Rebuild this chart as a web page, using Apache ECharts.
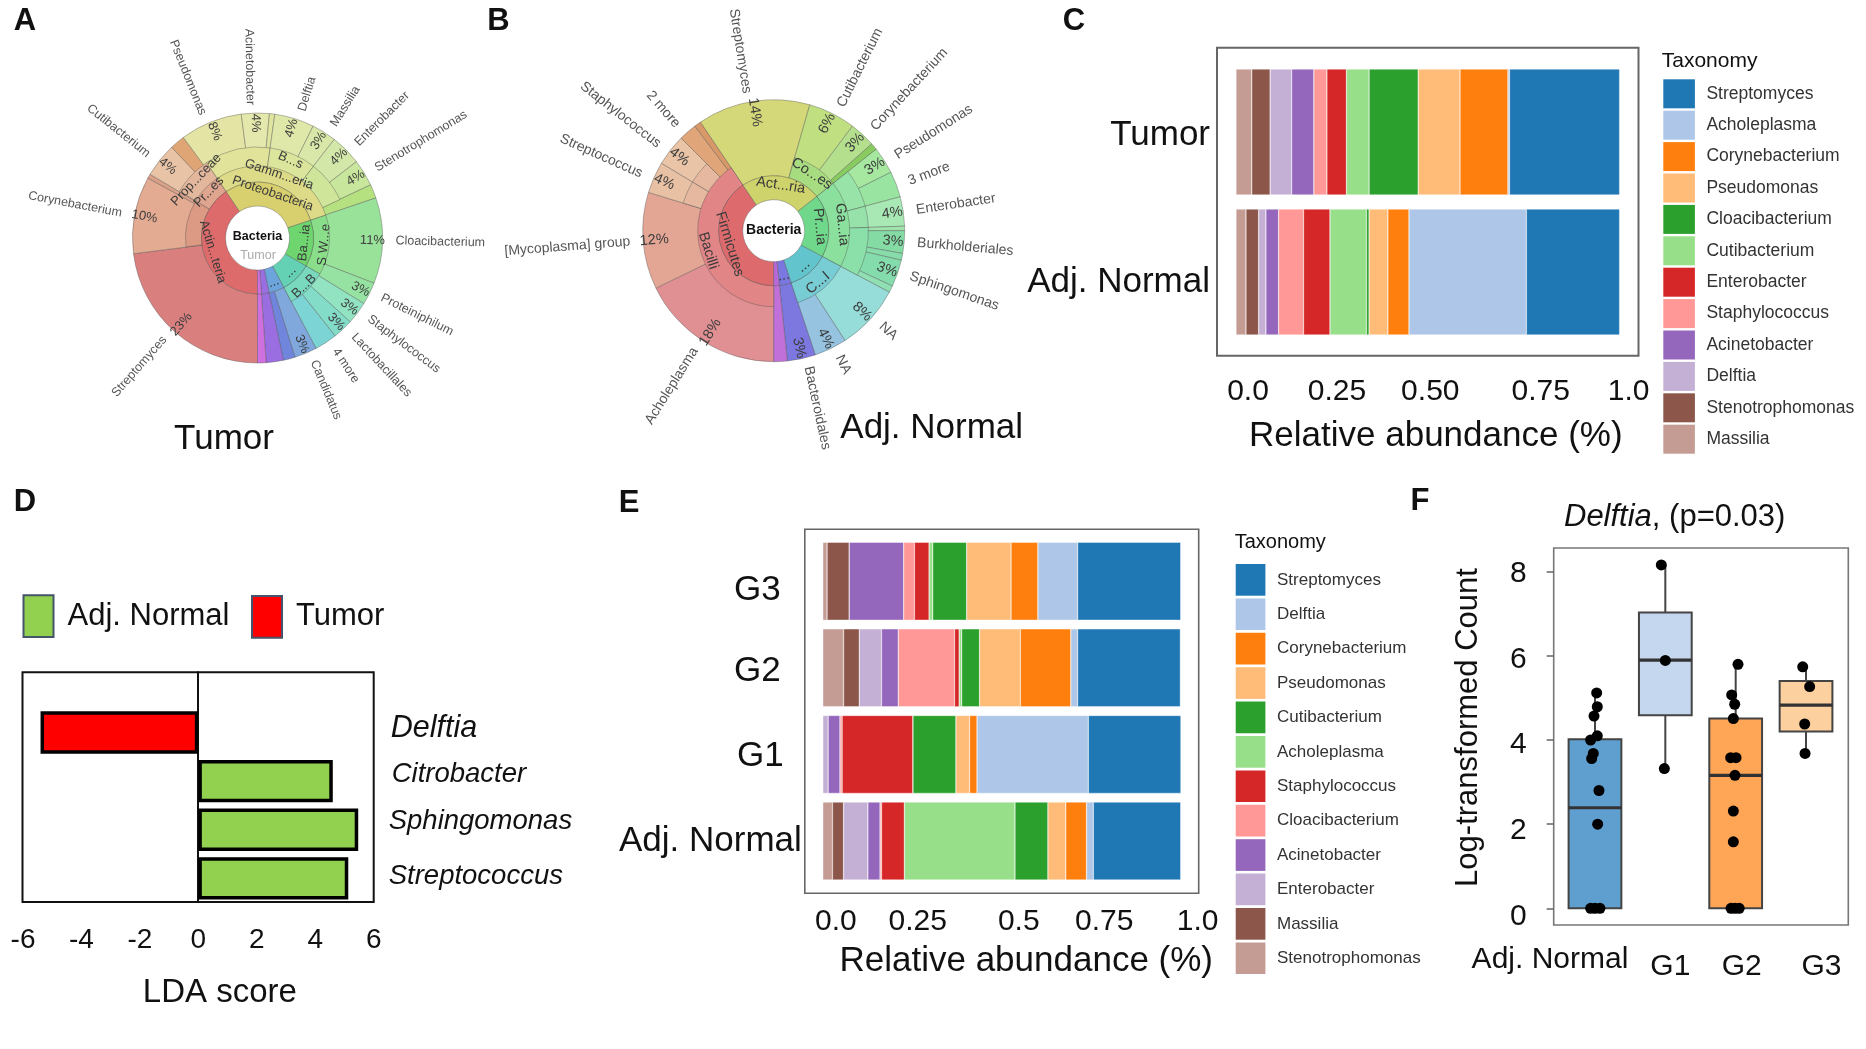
<!DOCTYPE html>
<html><head><meta charset="utf-8"><title>Microbiome composite</title>
<style>html,body{margin:0;background:#fff}#c{width:1866px;height:1049px}</style>
<script src="https://cdn.jsdelivr.net/npm/echarts@6/dist/echarts.min.js"></script></head>
<body><div id="c"></div><script>
// ---------- DATA ----------
// Panel A (Tumor): arcs, clockwise from the bottom, in degrees
const aGenusArc=[83,36,2,16,7,29,13,2.5,18.5,11.5,14.5,12.5,6.5,40,10.5,10.5,9.5,10.5,10.5,5.5,8,4];
const aGenusName=['Streptomyces','Corynebacterium','','Cutibacterium','','Pseudomonas','Acinetobacter','','Delftia','Massilia','Enterobacter','Stenotrophomonas','','Cloacibacterium','Proteiniphilum','Staphylococcus','Lactobacillales','4 more','Candidatus','','',''];
const aGenusPct=['23%','10%','','4%','','8%','4%','','4%','3%','4%','4%','','11%','3%','3%','3%','','3%','','',''];
const aOrderArc=[121,25,42,30,27,115];
const aOrderName=['','Prop...ceae','Pse...les','B...s','E...e',''];
const aClassArc=[83,38,25,105.5,48.5,32,28];
const aClassName=['','Co...es','Pr...es','Gamm...eria','S W...e','B...B',''];
const aPhylumArc=[146,105.5,48.5,32,16,8,4];
const aPhylumName=['Actin...teria','Proteobacteria','Ba...ia','...','...','',''];
// Panel B (Adj. Normal)
const bGenusArc=[64,43,14,14,8,3,50,21,11.5,3,12,11.5,13,2,10,3,12,3,29,14.5,12.5,6];
const bGenusName=['Acholeplasma','[Mycoplasma] group','Streptococcus','Staphylococcus','2 more','','Streptomyces','Cutibacterium','Corynebacterium','','Pseudomonas','3 more','Enterobacter','','Burkholderiales','','Sphingomonas','','NA','NA','Bacteroidales',''];
const bGenusPct=['18%','12%','4%','4%','','','14%','6%','3%','','3%','','4%','','3%','','3%','','8%','4%','3%',''];
const bOrderArc=[107,14,14,11,85.5,23.5,13,30,62];
const bClassArc=[146,50,35.5,66.5,43.5,18.5];
const bClassName=['Bacilli','','Co...es','Ga...ia','C...I',''];
const bPhylumArc=[146,85.5,66.5,43.5,12.5,6];
const bPhylumName=['Firmicutes','Act...ria','Pr...ia','...','...',''];
// Panel C
const cTaxa=['Streptomyces','Acholeplasma','Corynebacterium','Pseudomonas','Cloacibacterium','Cutibacterium','Enterobacter','Staphylococcus','Acinetobacter','Delftia','Stenotrophomonas','Massilia'];
const cGroups=['Adj. Normal','Tumor'];
const cTumor=[.287,.004,.125,.109,.128,.059,.051,.034,.058,.056,.048,.041];
const cNormal=[.243,.306,.055,.049,.007,.095,.069,.065,.033,.019,.033,.026];
const cTicks=['0.0','0.25','0.50','0.75','1.0'];
// Panel D
const dTaxa=['Streptococcus','Sphingomonas','Citrobacter','Delftia'];
const dNormal=[5.13,5.47,4.6,null];
const dTumor=[null,null,null,-5.4];
// Panel E
const eTaxa=['Streptomyces','Delftia','Corynebacterium','Pseudomonas','Cutibacterium','Acholeplasma','Staphylococcus','Cloacibacterium','Acinetobacter','Enterobacter','Massilia','Stenotrophomonas'];
const eGroups=['Adj. Normal','G1','G2','G3'];
const eNormal=[.244,.019,.058,.050,.092,.309,.064,.004,.034,.068,.031,.027];
const eG1=[.259,.311,.021,.038,.120,0,.198,.006,.033,.015,0,0];
const eG2=[.287,.019,.141,.114,.050,.007,.013,.157,.047,.062,.044,.058];
const eG3=[.288,.111,.075,.124,.095,.010,.041,.030,.152,0,.062,.012];
const eTicks=['0.0','0.25','0.5','0.75','1.0'];
// Panel F: [group, low, q1, median, q3, high]
const fGroups=['Adj. Normal','G1','G2','G3'];
const fBoxes=[[0,0,0,2.39,4.02,5.1],[1,3.32,4.59,5.9,7.03,8.16],[2,0,0,3.16,4.51,5.8],[3,3.68,4.2,4.83,5.4,5.74]];
const fPoints=[[.024,5.12],[.033,4.79],[-.014,4.57],[.033,4.10],[-.062,4.0],[-.024,3.68],[-.047,3.56],[.057,2.80],[.038,2.0],[-.062,0],[0,0],[.071,0],
[.943,8.16],[1,5.89],[.986,3.32],
[2.033,5.8],[1.943,5.07],[1.986,4.85],[1.967,4.51],[1.929,3.58],[2.005,3.58],[1.99,3.16],[1.967,2.31],[1.967,1.58],[1.934,0],[1.99,0],[2.05,0],
[2.953,5.74],[3.052,5.27],[2.981,4.38],[2.986,3.68]];
const fTicks=['0','2','4','6','8'];

// ---------- STYLE ----------
const S='"Liberation Sans",Arial,sans-serif';
const tab={Streptomyces:'#1f77b4',Acholeplasma:'#aec7e8',Corynebacterium:'#ff7f0e',Pseudomonas:'#ffbb78',Cloacibacterium:'#2ca02c',Cutibacterium:'#98df8a',Enterobacter:'#d62728',Staphylococcus:'#ff9896',Acinetobacter:'#9467bd',Delftia:'#c5b0d5',Stenotrophomonas:'#8c564b',Massilia:'#c49c94'};
const tabE={Streptomyces:'#1f77b4',Delftia:'#aec7e8',Corynebacterium:'#ff7f0e',Pseudomonas:'#ffbb78',Cutibacterium:'#2ca02c',Acholeplasma:'#98df8a',Staphylococcus:'#d62728',Cloacibacterium:'#ff9896',Acinetobacter:'#9467bd',Enterobacter:'#c5b0d5',Massilia:'#8c564b',Stenotrophomonas:'#c49c94'};
const aGenusCol=['#d9807f','#e2ab92','#dba088','#e8c3a6','#dfa574','#e4e5a4','#e4e8ac','#dfe49f','#dfe8a8','#d9e8a8','#d3e8a8','#c8e69c','#b5e180','#99e29a','#96e2a2','#92e3c2','#82dcc8','#7dd4d4','#80a8dc','#6f86dc','#9a6ee0','#d070e0'];
const aOrderCol=[null,'#e3b79c','#e2e39a','#dbe69c','#cfe59a',null];
const aClassCol=[null,'#dc9a85','#dfa58f','#dedb88','#8ade8a','#78d9bf',null];
const aPhylumCol=['#dd6b6b','#d8cf6e','#6fd56f','#64d0b4','#6ca4dc','#9a6ee0','#d070e0'];
const bGenusCol=['#e09092','#e3a594','#e8c0a4','#e9c4a6','#e0a578','#d89868','#d4d878','#bfdf80','#b4e08e','#88cc60','#a6e8a0','#98e4a0','#a8e8b4','#a0e4ac','#84dca4','#88dcaa','#84dcac','#90e0b4','#96dcd8','#96c4e0','#7c78e0','#c070d8'];
const bOrderCol=[null,'#e6b8a0','#e6b8a0',null,null,'#98e4a8','#96e2aa','#8ae0a8',null];
const bClassCol=['#e28587',null,'#a8dc80','#8ae09c','#78ccd4',null];
const bPhylumCol=['#dd6b6e','#cfd36c','#6fd88a','#62c4cc','#7a78e0','#b868d8'];
const fFill=['#5f9fd0','#c5d7ee','#ffa556','#fdd0a0'];

// ---------- HELPERS ----------
const box=(x0,y0,x1,y1,extra)=>Object.assign({left:x0,top:y0,width:x1-x0,height:y1-y0},extra||{});
const line='rgba(80,80,80,.38)';
function pie(center,r0,r1,arcs,names,cols,labelOpt,lineFor){
  return {type:'pie',silent:true,center,radius:[r0,r1],startAngle:270,clockwise:true,avoidLabelOverlap:false,
    emphasis:{disabled:true},labelLine:{show:false,length:8,length2:0},
    label:Object.assign({show:true,formatter:'{b}',fontFamily:S,color:'#333',fontSize:12.5},labelOpt||{show:false}),
    data:arcs.map((v,i)=>{const c=cols?cols[i]:null;
      const d={value:v,name:names?names[i]:'',itemStyle:c?{color:c,borderColor:line,borderWidth:1}:{color:'rgba(0,0,0,0)',borderWidth:0}};
      if(lineFor&&lineFor(i)) d.labelLine={show:true,length:17,length2:0,lineStyle:{color:'#888',width:1}};
      return d;})};
}
// label helper: per-label padding through rich styles [top,right,bottom,left]
function padded(labels,pads,style,over){
  const rich={};labels.forEach((l,i)=>rich['t'+i]=Object.assign({},style,over&&over[i]||{},{padding:pads[i]}));
  return {formatter:(v,i)=>`{t${i}|${labels[i]}}`,rich};
}
function krona(c,r,fs,g,gN,gP,gC,o,oN,oC,k,kN,kC,p,pN,pC){
  const ringLab={show:true,position:'inside',rotate:'tangential',fontSize:fs+.5,color:'#3a3a3a'};
  const isMore=i=>/more/.test(gN[i]);
  return [
    pie(c,r[1],r[4],g,null,gC),
    pie(c,r[1],r[3],o,null,oC),
    pie(c,r[1],r[2],k,null,kC),
    pie(c,r[0],r[1],p,null,pC),
    pie(c,r[0],r[1],p,pN,null,ringLab),
    pie(c,r[1],r[2],k,kN,null,ringLab),
    pie(c,r[2],r[3],o,oN,null,ringLab),
    pie(c,r[3]+2,r[4]+6,g,gP,null,{show:true,position:'inside',rotate:'radial',fontSize:fs+.5,color:'#3d3d3d'}),
    pie(c,r[4]-9,r[4]-8,g,g.map((_,i)=>isMore(i)?' ':''),null,{show:true,position:'outside',rotate:'radial',fontSize:fs,alignTo:'none'},isMore),
    pie(c,r[4]-1,r[4],g,gN,null,{show:true,position:'outside',rotate:'radial',fontSize:fs,color:'#555',distanceToLabelLine:5,alignTo:'none'})
  ];
}
function stackSeries(taxa,rows,xi,yi,stack){
  // drawn from last taxon to first so the first taxon ends at 1.0
  return taxa.map((t,i)=>({name:t,type:'bar',stack,xAxisIndex:xi,yAxisIndex:yi,barWidth:'90%',silent:true,
    itemStyle:{color:(stack==='c'?tab:tabE)[t],borderColor:'#fff',borderWidth:.4},
    data:rows.map(r=>r[i])})).reverse();
}
function legendOf(taxa,pal,x,y,w,h,gap,fs,pad){
  return {left:x,top:y,orient:'vertical',padding:0,itemWidth:w,itemHeight:h,itemGap:gap,icon:'rect',selectedMode:false,
    textStyle:{fontFamily:S,fontSize:fs,color:'#333',padding:[0,0,0,pad]},
    data:taxa.map(t=>({name:t,icon:'rect',itemStyle:{color:pal[t],borderWidth:0}}))};
}
const noAxisBits={axisLine:{show:false,onZero:false},splitLine:{show:false}};
const txt=(text,x,y,font,extra)=>({type:'text',silent:true,x,y,style:Object.assign({text,font,fill:'#111',align:'center',verticalAlign:'middle'},extra||{})});

// ---------- OPTION ----------
const cA=[257.5,238], cB=[773.7,230.7];
const series=[
  ...krona(cA,[32,56,72,91,125],12.5,aGenusArc,aGenusName,aGenusPct,aGenusCol,aOrderArc,aOrderName,aOrderCol,aClassArc,aClassName,aClassCol,aPhylumArc,aPhylumName,aPhylumCol),
  ...krona(cB,[31,55,76,94.7,131],14,bGenusArc,bGenusName,bGenusPct,bGenusCol,bOrderArc,bOrderArc.map(()=>''),bOrderCol,bClassArc,bClassName,bClassCol,bPhylumArc,bPhylumName,bPhylumCol),
  ...stackSeries(cTaxa,[cNormal,cTumor],0,0,'c'),
  {name:'Adj. Normal',type:'bar',stack:'d',xAxisIndex:1,yAxisIndex:1,barWidth:'87%',silent:true,itemStyle:{color:'#92d050',borderColor:'#000',borderWidth:3.5},data:dNormal},
  {name:'Tumor',type:'bar',stack:'d',xAxisIndex:1,yAxisIndex:1,barWidth:'87%',silent:true,itemStyle:{color:'#ff0000',borderColor:'#000',borderWidth:3.5},data:dTumor},
  ...stackSeries(eTaxa,[eNormal,eG1,eG2,eG3],3,3,'e'),
  {type:'custom',name:'Delftia boxes',xAxisIndex:4,yAxisIndex:4,silent:true,clip:false,data:fBoxes,encode:{x:0,y:[1,2,3,4,5]},
   renderItem(params,api){
     const x=api.coord([api.value(0),0])[0], hw=api.size([1,0])[0]*.375;
     const Y=i=>api.coord([api.value(0),api.value(i)])[1];
     const stroke={stroke:'#444',lineWidth:2,fill:null};
     return {type:'group',children:[
       {type:'line',shape:{x1:x,y1:Y(1),x2:x,y2:Y(5)},style:stroke},
       {type:'rect',shape:{x:x-hw,y:Y(4),width:hw*2,height:Y(2)-Y(4)},style:{fill:fFill[params.dataIndex],stroke:'#444',lineWidth:2}},
       {type:'line',shape:{x1:x-hw,y1:Y(3),x2:x+hw,y2:Y(3)},style:{stroke:'#333',lineWidth:3.2}}
     ]};
   }},
  {type:'scatter',name:'Delftia samples',xAxisIndex:5,yAxisIndex:4,silent:true,symbolSize:11,clip:false,z:5,itemStyle:{color:'#000',opacity:1},data:fPoints}
];
const grey='#777';
const option={
  animation:false,backgroundColor:'#fff',
  grid:[
    box(1236,62,1619.6,342),                                   // 0 C data
    box(1217,47.7,1638.5,355.7,{show:true,borderColor:'#666',borderWidth:2,backgroundColor:'transparent'}), // 1 C frame
    box(23,708.2,373.7,902.7),                                 // 2 D data
    box(22.5,672.3,373.7,902,{show:true,borderColor:'#111',borderWidth:2,backgroundColor:'transparent'}),   // 3 D frame
    box(822.8,538,1180.7,884.3),                               // 4 E data
    box(804.8,529.3,1198.7,893.3,{show:true,borderColor:'#666',borderWidth:1.6,backgroundColor:'transparent'}), // 5 E frame
    box(1559.8,571.7,1841.2,908.3),                            // 6 F data
    box(1553.7,548,1848.3,925,{show:true,borderColor:'#777',borderWidth:1.6,backgroundColor:'transparent'})    // 7 F frame
  ],
  xAxis:[
    {gridIndex:0,type:'value',min:0,max:1,interval:.25,offset:13.7,...noAxisBits,axisTick:{length:3,lineStyle:{color:grey}},
      axisLabel:{margin:21,...padded(cTicks,[[0,0,0,24],[0,0,0,10],[0,0,0,5],[0,0,0,34],[0,0,0,18]],{fontFamily:S,fontSize:30,color:'#111'})},
      name:'Relative abundance (%)',nameLocation:'middle',nameGap:63.5,nameTextStyle:{fontFamily:S,fontSize:35,color:'#111',padding:[0,0,0,16]}},
    {gridIndex:2,type:'value',min:-6,max:6,interval:2,...noAxisBits,axisTick:{show:false},
      axisLabel:{margin:24,fontFamily:S,fontSize:28,color:'#111'},
      name:'LDA score',nameLocation:'middle',nameGap:74,nameTextStyle:{fontFamily:S,fontSize:33,color:'#111',padding:[0,0,0,43]}},
    {gridIndex:3,type:'value',min:-6,max:6,show:false},
    {gridIndex:4,type:'value',min:0,max:1,interval:.25,offset:9,...noAxisBits,axisTick:{length:3,lineStyle:{color:grey}},
      axisLabel:{margin:13,...padded(eTicks,[[0,0,0,26],[0,0,0,11],[0,0,0,34],[0,0,0,26],[0,0,0,34]],{fontFamily:S,fontSize:30,color:'#111'})},
      name:'Relative abundance (%)',nameLocation:'middle',nameGap:51,nameTextStyle:{fontFamily:S,fontSize:35,color:'#111',padding:[0,0,0,49]}},
    {gridIndex:6,type:'category',data:fGroups,offset:16.7,...noAxisBits,axisTick:{alignWithLabel:true,length:7,lineStyle:{color:'#666',width:1.5}},
      axisLabel:{margin:20,interval:0,...padded(fGroups,[[0,90,0,0],[7,0,0,10],[7,0,0,12],[7,0,0,31]],{fontFamily:S,fontSize:30,color:'#111'})}},
    {gridIndex:6,type:'value',min:-.5,max:3.5,show:false}
  ],
  yAxis:[
    {gridIndex:0,type:'category',data:cGroups,offset:19,...noAxisBits,axisTick:{alignWithLabel:true,length:3,lineStyle:{color:'#bbb'}},
      axisLabel:{margin:7,interval:0,...padded(cGroups,[[21,0,0,0],[6,0,0,0]],{fontFamily:S,fontSize:35,color:'#111'})}},
    {gridIndex:2,type:'category',position:'right',data:dTaxa,...noAxisBits,axisTick:{show:false},
      axisLabel:{margin:15,interval:0,...padded(dTaxa,[[0,0,5,0],[0,0,17,0],[0,0,14,3],[0,0,7,2]],{fontFamily:S,fontStyle:'italic',fontSize:27.5,color:'#111'},[null,null,null,{fontSize:30.5}])}},
    {gridIndex:3,type:'value',min:0,max:1,axisLine:{show:true,onZero:true,lineStyle:{color:'#111',width:2}},axisTick:{show:false},axisLabel:{show:false},splitLine:{show:false}},
    {gridIndex:4,type:'category',data:eGroups,offset:18,...noAxisBits,axisTick:{alignWithLabel:true,length:3,lineStyle:{color:grey}},
      axisLabel:{margin:3,interval:0,...padded(eGroups,[[1,0,0,0],[4,18,0,0],[7,21,0,0],[18,21,0,0]],{fontFamily:S,fontSize:35,color:'#111'})}},
    {gridIndex:6,type:'value',min:0,max:8,interval:2,offset:6.1,...noAxisBits,axisTick:{length:7,lineStyle:{color:'#666',width:1.5}},
      axisLabel:{margin:27,...padded(fTicks,[[17,0,0,0],[14,0,0,0],[10,0,0,0],[8,0,0,0],[5,0,0,0]],{fontFamily:S,fontSize:30,color:'#111'})},
      name:'Log-transformed Count',nameLocation:'middle',nameGap:70,nameTextStyle:{fontFamily:S,fontSize:31,color:'#111',padding:[0,0,0,25]}}
  ],
  legend:[
    legendOf(cTaxa,tab,1663.3,79.3,31.6,29,2.4,17.5,6.5),
    legendOf(eTaxa,tabE,1235.7,564,29.7,31.7,2.7,17,6.6),
    {left:22.5,top:594.3,padding:0,itemWidth:30,itemHeight:41.7,icon:'rect',selectedMode:false,
      textStyle:{fontFamily:S,fontSize:31,color:'#111',padding:[0,0,6,9]},
      data:[{name:'Adj. Normal',icon:'rect',itemStyle:{color:'#92d050',borderColor:'#44546a',borderWidth:2}}]},
    {left:251,top:595,padding:0,itemWidth:30,itemHeight:41.7,icon:'rect',selectedMode:false,
      textStyle:{fontFamily:S,fontSize:31,color:'#111',padding:[8,0,0,9]},
      data:[{name:'Tumor',icon:'rect',itemStyle:{color:'#ff0000',borderColor:'#44546a',borderWidth:2}}]}
  ],
  series,
  graphic:[
    txt('A',25,21,'bold 31px '+S), txt('B',498.5,21,'bold 31px '+S), txt('C',1074,21,'bold 31px '+S),
    txt('D',25,502.5,'bold 31px '+S), txt('E',629,503,'bold 31px '+S), txt('F',1420,501,'bold 31px '+S),
    txt('Tumor',224,439,'35px '+S), txt('Adj. Normal',931.7,428,'35px '+S),
    txt('Bacteria',257.5,236.7,'bold 12.5px '+S), txt('Tumor',258,256,'12.5px '+S,{fill:'#aaa'}),
    txt('Bacteria',773.7,230,'bold 14px '+S),
    txt('Taxonomy',1661.7,61,'21px '+S,{align:'left'}), txt('Taxonomy',1234.7,542.7,'20px '+S,{align:'left'}),
    {type:'text',silent:true,x:1674.7,y:517,style:{text:'{i|Delftia}{n|, (p=0.03)}',align:'center',verticalAlign:'middle',
      rich:{i:{font:'italic 31px '+S,fill:'#111'},n:{font:'31px '+S,fill:'#111'}}}}
  ]
};
echarts.init(document.getElementById('c'),null,{renderer:'canvas'}).setOption(option);
</script></body></html>
